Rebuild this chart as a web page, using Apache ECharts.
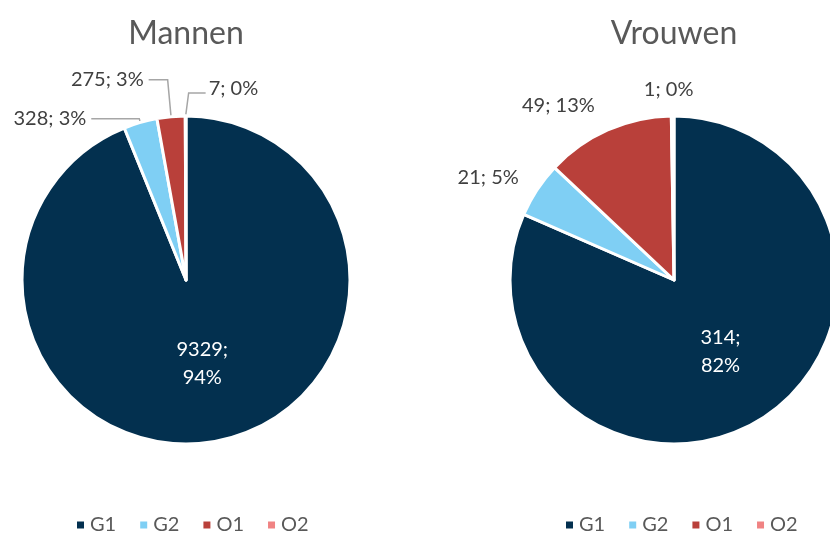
<!DOCTYPE html>
<html>
<head>
<meta charset="utf-8">
<script src="https://cdn.jsdelivr.net/npm/echarts@6/dist/echarts.min.js"></script>
<style>
    html, body { margin: 0; padding: 0; background: #fff; }
    #chart { width: 830px; height: 534px; }
</style>
</head>
<body>
<div id="chart"></div>
<script>
'use strict';

var categories = ['G1', 'G2', 'O1', 'O2'];
var mannenValues = [9329, 328, 275, 7];
var vrouwenValues = [314, 21, 49, 1];
var titles = ['Mannen', 'Vrouwen'];
var colors = ['#03304f', '#7fcff4', '#b9403a', '#f08383'];

// leader line lengths per slice (first segment, horizontal segment)
var mannenLines = [[0, 0], [4, 48], [37, 19], [23, 17]];
var vrouwenLines = [[0, 0], [22, 0], [27, 2], [20, 0]];

var font = 'Lato, "Open Sans", sans-serif';

function labelText(params) {
    var pct = Math.round(params.percent) + '%';
    if (params.dataIndex === 0) {
        return params.value + ';\n' + pct;
    }
    return params.value + '; ' + pct;
}

function buildData(values, lines, showLine) {
    var data = [];
    for (var i = 0; i < values.length; i++) {
        var item = { name: categories[i], value: values[i] };
        if (i === 0) {
            item.label = { position: 'inside', color: '#ffffff', lineHeight: 28 };
            item.labelLine = { show: false };
        } else {
            item.labelLine = { show: showLine, length: lines[i][0], length2: lines[i][1] };
        }
        data.push(item);
    }
    return data;
}

function buildSeries(values, center, lines, showLine) {
    return {
        type: 'pie',
        radius: 164,
        center: center,
        startAngle: 90,
        clockwise: true,
        avoidLabelOverlap: false,
        itemStyle: { borderColor: '#ffffff', borderWidth: 3 },
        label: {
            show: true,
            position: 'outside',
            overflow: 'none',
            distanceToLabelLine: showLine ? 5 : 0,
            formatter: labelText,
            fontFamily: font,
            fontSize: 20,
            color: '#404040'
        },
        labelLine: {
            show: showLine,
            lineStyle: { color: '#a6a6a6', width: 1.5 }
        },
        // the tiniest slices sit right at the top: put their labels where the reference has them
        labelLayout: function (params) {
            if (params.dataIndex !== 3) {
                return {};
            }
            if (params.seriesIndex === 0 && params.labelLinePoints) {
                var p0 = params.labelLinePoints[0];
                var up = mannenLines[3][0], side = mannenLines[3][1];
                return {
                    x: p0[0] + side + 6,
                    y: p0[1] - up - 4,
                    align: 'left',
                    verticalAlign: 'middle',
                    labelLinePoints: [[p0[0], p0[1]], [p0[0] + 3, p0[1] - up], [p0[0] + side + 3, p0[1] - up]]
                };
            }
            var r = params.rect;
            return {
                x: r.x + r.width / 2 - 4,
                y: r.y - 25,
                align: 'center',
                verticalAlign: 'middle'
            };
        },
        emphasis: { disabled: true },
        data: buildData(values, lines, showLine)
    };
}

function buildLegend(left) {
    return {
        data: categories,
        left: left,
        top: 510,
        icon: 'rect',
        itemWidth: 9,
        itemHeight: 9,
        itemGap: 22,
        textStyle: { fontFamily: font, fontSize: 20, color: '#595959' }
    };
}

function buildTitle(text, left) {
    return {
        text: text,
        left: left,
        top: 13,
        textAlign: 'center',
        textStyle: { fontFamily: font, fontSize: 32, fontWeight: 'normal', color: '#595959' }
    };
}

var chart = echarts.init(document.getElementById('chart'));
chart.setOption({
    backgroundColor: '#ffffff',
    color: colors,
    animation: false,
    title: [buildTitle(titles[0], 181), buildTitle(titles[1], 669)],
    legend: [buildLegend(70), buildLegend(559)],
    series: [
        buildSeries(mannenValues, [186, 280], mannenLines, true),
        buildSeries(vrouwenValues, [674, 280], vrouwenLines, false)
    ]
});
</script>
</body>
</html>
